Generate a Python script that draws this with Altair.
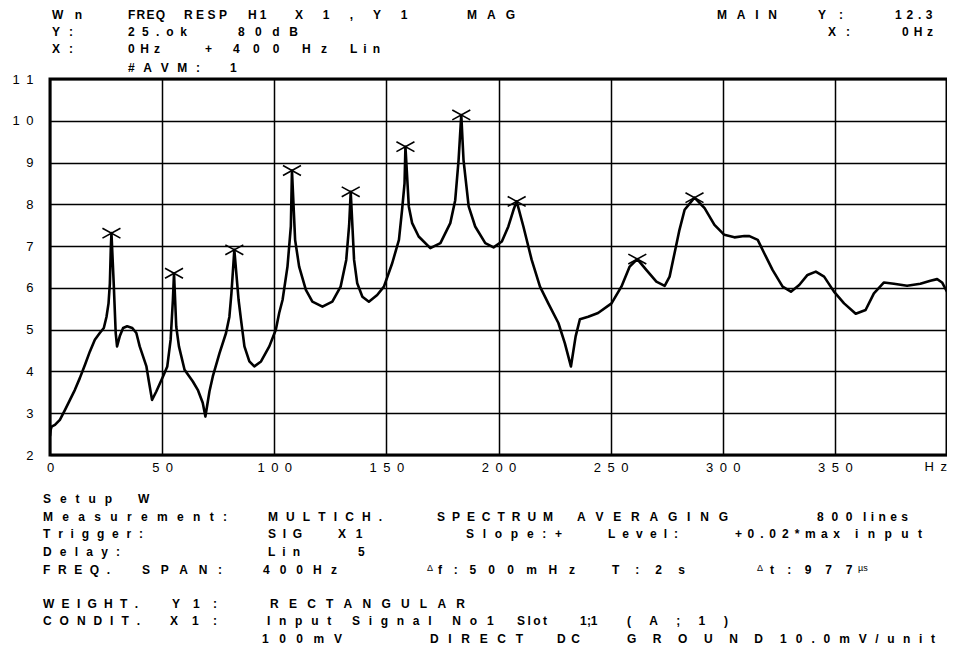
import altair as alt
import pandas as pd

# ---------------- data ----------------
freq = [0, 0.3, 0.7, 2.2, 4.4, 6.7, 8.9, 11.1, 13.3, 15.6, 17.8, 20.0, 22.2, 24.0, 25.2, 26.1, 26.7, 27.1, 27.4,
        28.4, 29.3, 29.9, 31.1, 32.6, 34.4, 36.7, 38.5, 40.0, 41.5, 43.0, 44.1, 45.5, 47.4, 50.4, 52.3, 53.8, 54.8, 55.3,
        56.3, 57.5, 60.0, 63.7, 65.9, 68.1, 69.3, 71.1, 72.6, 75.6, 78.5, 80.0, 80.9, 82.2,
        84.1, 85.2, 86.7, 88.9, 91.1, 94.1, 97.8, 100.7, 102.2, 103.7, 105.9, 107.4, 107.9,
        109.3, 111.1, 114.1, 117.0, 121.5, 125.9, 129.6, 132.1, 133.4, 134.1,
        135.6, 137.0, 139.3, 142.2, 145.9, 148.9, 152.6, 155.6, 157.0, 158.1, 158.5,
        160.0, 161.5, 164.4, 169.6, 174.1, 178.5, 180.7, 182.2, 183.4,
        184.4, 186.7, 189.6, 194.1, 197.8, 201.5, 204.4, 206.7, 208.1,
        211.1, 214.8, 218.5, 222.2, 226.7, 229.6, 232.3, 234.4, 236.3, 240.0, 244.4, 250.4, 254.8, 258.5, 261.9,
        265.9, 270.4, 274.1, 276.3, 278.5, 280.7, 283.0, 287.4,
        291.9, 296.3, 300.7, 305.2, 309.6, 311.9, 315.6, 318.5, 322.2, 326.7, 330.4, 334.1, 337.8, 341.5, 345.2,
        349.6, 354.1, 359.3, 363.7, 367.4, 371.9, 376.3, 382.2, 388.1, 392.6, 395.6, 397.8, 400.0]
mag = [2.45, 2.6, 2.68, 2.72, 2.84, 3.08, 3.32, 3.56, 3.84, 4.16, 4.48, 4.76, 4.92, 5.04, 5.31, 5.63, 6.11, 6.91, 7.31,
       6.12, 4.92, 4.6, 4.84, 5.04, 5.08, 5.04, 4.92, 4.6, 4.36, 4.12, 3.76, 3.32, 3.52, 3.88, 4.12, 4.76, 5.71, 6.35,
       5.07, 4.6, 4.04, 3.76, 3.56, 3.25, 2.92, 3.52, 3.88, 4.44, 4.92, 5.31, 5.87, 6.91,
       5.71, 5.23, 4.6, 4.24, 4.12, 4.24, 4.6, 5.0, 5.4, 5.71, 6.51, 7.47, 8.81,
       7.15, 6.51, 5.95, 5.67, 5.55, 5.67, 6.03, 6.67, 7.5, 8.30,
       6.67, 6.11, 5.79, 5.67, 5.83, 6.03, 6.59, 7.15, 7.87, 8.5, 9.38,
       7.95, 7.55, 7.23, 6.95, 7.07, 7.55, 8.1, 9.06, 10.14,
       9.06, 7.95, 7.47, 7.07, 6.97, 7.11, 7.47, 7.87, 8.07,
       7.47, 6.67, 6.03, 5.63, 5.16, 4.67, 4.12, 4.84, 5.25, 5.31, 5.40, 5.63, 6.03, 6.51, 6.69,
       6.43, 6.15, 6.05, 6.27, 6.83, 7.39, 7.87, 8.16,
       7.91, 7.51, 7.27, 7.21, 7.24, 7.24, 7.15, 6.83, 6.43, 6.03, 5.91, 6.07, 6.31, 6.39, 6.27,
       5.91, 5.63, 5.38, 5.47, 5.87, 6.13, 6.10, 6.05, 6.10, 6.17, 6.21, 6.13, 5.91]

peak_freq = [27.4, 55.3, 82.2, 107.9, 134.1, 158.5, 183.4, 208.1, 261.9, 287.4]
peak_mag = [7.31, 6.35, 6.91, 8.81, 8.30, 9.38, 10.14, 8.07, 6.69, 8.16]

x_ticks = [0, 50, 100, 150, 200, 250, 300, 350]
y_ticks = [2, 3, 4, 5, 6, 7, 8, 9, 10, 11]
x_unit = "Hz"

# text chunks: (left, right, text) in page pixels, one list per line
header_lines = [
    [(52, 82, "Wn"), (128, 165, "FREQ"), (184, 227, "RESP"), (248, 267, "H1"), (295, 408, "X1,Y1"),
     (467, 515, "MAG"), (717, 777, "MAIN"), (818, 843, "Y:"), (895, 933, "12.3")],
    [(52, 73, "Y:"), (128, 187, "25.ok"), (238, 298, "80dB"), (828, 850, "X:"), (902, 933, "0Hz")],
    [(52, 73, "X:"), (128, 160, "0Hz"), (205, 213, "+"), (233, 280, "400"), (302, 327, "Hz"), (350, 380, "Lin")],
    [(128, 200, "#AVM:"), (230, 235, "1")],
]
header_base = [19.0, 35.6, 53.4, 71.6]

setup_lines = [
    [(43, 112, "Setup"), (138, 155, "W")],
    [(43, 227, "Measurement:"), (268, 382, "MULTICH."), (437, 553, "SPECTRUM"), (577, 728, "AVERAGING"),
     (817, 853, "800"), (863, 908, "lines")],
    [(43, 143, "Trigger:"), (268, 302, "SIG"), (338, 363, "X1"), (466, 562, "Slope:+"), (608, 678, "Level:"),
     (735, 840, "+0.02*max"), (855, 922, "input")],
    [(43, 120, "Delay:"), (268, 300, "Lin"), (358, 365, "5")],
    [(43, 110, "FREQ."), (142, 222, "SPAN:"), (263, 337, "400Hz"), (438, 575, "f:500mHz"), (612, 685, "T:2s"),
     (770, 853, "t:977")],
    [(43, 138, "WEIGHT."), (172, 217, "Y1:"), (270, 465, "RECTANGULAR")],
    [(43, 140, "CONDIT."), (170, 217, "X1:"), (267, 477, "Input Signal No"), (487, 492, "1"), (517, 547, "Slot"),
     (580, 598, "1;1"), (627, 728, "(A;1)")],
    [(262, 342, "100mV"), (430, 523, "DIRECT"), (557, 580, "DC"), (627, 763, "GROUND"), (780, 935, "10.0mV/unit")],
]
setup_base = [503.3, 521.0, 538.3, 556.0, 573.7, 607.7, 625.0, 642.5]

small_marks = [(427, 570.5, "\u0394"), (757, 570.5, "\u0394"), (858, 570.5, "\u00b5s")]

# ---------------- layout helpers ----------------
PL, PT = 42, 71          # plot origin inside the chart
W, H = 897, 376
OX, OY = 8 + PL, 8 + PT  # plot origin on the page
XMAX, YMIN, YMAX = 400.0, 2.0, 11.0
FS = 12

ADV = {" ": 278, "#": 556, "(": 333, ")": 333, "*": 389, "+": 584, ",": 278, ".": 278, "/": 278,
       ":": 333, ";": 333, "A": 722, "B": 722, "C": 722, "D": 722, "E": 667, "F": 611, "G": 778,
       "H": 722, "I": 278, "L": 611, "M": 833, "N": 722, "O": 778, "P": 667, "Q": 778, "R": 722,
       "S": 667, "T": 611, "U": 722, "V": 667, "W": 944, "X": 667, "Y": 667, "a": 556, "c": 556,
       "e": 556, "f": 333, "g": 611, "i": 278, "k": 556, "l": 278, "m": 889, "n": 611, "o": 611,
       "p": 611, "r": 389, "s": 556, "t": 333, "u": 611, "x": 556, "y": 556, "z": 500}


def to_data(px, py):
    """page pixel -> data coordinates of the shared scales"""
    return (px - OX) / W * XMAX, YMAX - (py - OY) / H * (YMAX - YMIN)


def spread(x0, x1, text):
    widths = [ADV.get(c, 600) * FS / 1000 for c in text]
    n = len(text)
    gap = (x1 - x0 - sum(widths)) / (n - 1) if n > 1 else 0
    out, x = [], x0
    for c, w in zip(text, widths):
        out.append((x, c))
        x += w + gap
    return out


rows = []
for y, line in list(zip(header_base, header_lines)) + list(zip(setup_base, setup_lines)):
    for x0, x1, t in line:
        for x, c in spread(x0, x1, t):
            if c != " ":
                fx, fy = to_data(x, y)
                rows.append({"f": fx, "m": fy, "t": c})
text_df = pd.DataFrame(rows)

small_df = pd.DataFrame([dict(zip(("f", "m"), to_data(x, y)), t=t) for x, y, t in small_marks])
ux, uy = to_data(951 - 4, 461)
unit_df = pd.DataFrame([{"f": ux, "m": uy, "t": "\u2002".join(list(x_unit))}])

curve = pd.DataFrame({"f": freq, "m": mag})
peaks = pd.DataFrame({"f": peak_freq, "m": peak_mag})

FONT = "Liberation Sans"
xs = alt.Scale(domain=[0, XMAX], nice=False, zero=False)
ys = alt.Scale(domain=[YMIN, YMAX], nice=False, zero=False)

x_axis = alt.Axis(values=x_ticks, grid=True, gridColor="black", gridWidth=1.5, gridOpacity=1,
                  domain=False, ticks=False, labelPadding=6, labelFont=FONT, labelFontSize=13,
                  labelColor="black", labelFlush=False, title=None,
                  labelExpr="join(split(datum.label, ''), '\u2002')")
y_axis = alt.Axis(values=y_ticks, grid=True, gridColor="black", gridWidth=1.5, gridOpacity=1,
                  domain=False, ticks=False, labelPadding=17, labelFont=FONT, labelFontSize=13,
                  labelColor="black", title=None,
                  labelExpr="join(split(datum.label, ''), '\u2002')")

X = alt.X("f:Q", scale=xs, axis=x_axis)
Y = alt.Y("m:Q", scale=ys, axis=y_axis)

line = alt.Chart(curve).mark_line(color="black", strokeWidth=2.6, strokeJoin="round", clip=True).encode(x=X, y=Y)
marks = alt.Chart(peaks).mark_point(shape="M-1,-0.55L1,0.55M-1,0.55L1,-0.55", size=324, filled=False,
                                    color="black", strokeWidth=1.6, opacity=1).encode(x=X, y=Y)
texts = alt.Chart(text_df).mark_text(align="left", baseline="alphabetic", font=FONT, fontSize=FS,
                                     fontWeight="bold", color="black").encode(x=X, y=Y, text="t:N")
smalls = alt.Chart(small_df).mark_text(align="left", baseline="alphabetic", font=FONT, fontSize=9,
                                       color="black").encode(x=X, y=Y, text="t:N")
unit = alt.Chart(unit_df).mark_text(align="right", baseline="top", font=FONT, fontSize=13,
                                    color="black").encode(x=X, y=Y, text="t:N")

chart = alt.layer(line, marks, texts, smalls, unit).properties(
    width=W, height=H,
    padding={"left": PL, "top": PT, "right": 0, "bottom": 193},
    autosize=alt.AutoSizeParams(type="none"),
    background="white",
).configure_view(stroke="black", strokeWidth=3)

chart.save("out.html", embed_options={"renderer": "svg", "actions": False})
